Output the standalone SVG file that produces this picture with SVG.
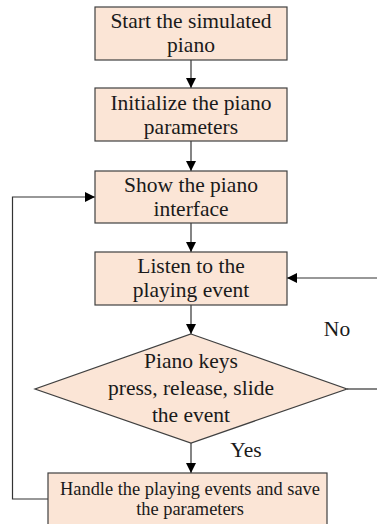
<svg xmlns="http://www.w3.org/2000/svg" width="377" height="524" viewBox="0 0 377 524">
  <defs>
    <marker id="arrow" viewBox="0 0 10 10" refX="10" refY="5" markerWidth="10" markerHeight="10" markerUnits="userSpaceOnUse" orient="auto">
      <path d="M0,0 L10,5 L0,10 Z" fill="#000"/>
    </marker>
  </defs>
  <style>
    .box { fill: #FBE5D6; stroke: #404040; stroke-width: 1.2; }
    .lbl { font-family: "Liberation Serif", "Times New Roman", serif; font-size: 21.5px; fill: #1a1a1a; text-anchor: middle; }
    .small { font-size: 18.4px; }
    .edge { fill: none; stroke: #333; stroke-width: 1.2; }
  </style>
  <rect width="377" height="524" fill="#fff"/>

  <g id="connectors">
    <line class="edge" x1="191" y1="60" x2="191" y2="88" marker-end="url(#arrow)"/>
    <line class="edge" x1="191" y1="141" x2="191" y2="171" marker-end="url(#arrow)"/>
    <line class="edge" x1="191" y1="223" x2="191" y2="252" marker-end="url(#arrow)"/>
    <line class="edge" x1="191" y1="305" x2="191" y2="334" marker-end="url(#arrow)"/>
    <line class="edge" x1="191" y1="443" x2="191" y2="473" marker-end="url(#arrow)"/>
    <polyline class="edge" points="48,499 12.5,499 12.5,197 95,197" marker-end="url(#arrow)"/>
    <line class="edge" x1="377" y1="278" x2="287" y2="278" marker-end="url(#arrow)"/>
    <line class="edge" x1="347" y1="389" x2="377" y2="389"/>
    <text class="lbl" x="337" y="336">No</text>
    <text class="lbl" x="246" y="457">Yes</text>
  </g>

  <g id="start">
    <rect class="box" x="95" y="7" width="192" height="53"/>
    <text class="lbl" x="191" y="28">Start the simulated</text>
    <text class="lbl" x="191" y="52">piano</text>
  </g>

  <g id="init">
    <rect class="box" x="95" y="88" width="192" height="53"/>
    <text class="lbl" x="191" y="110">Initialize the piano</text>
    <text class="lbl" x="191" y="134">parameters</text>
  </g>

  <g id="show">
    <rect class="box" x="95" y="171" width="192" height="52"/>
    <text class="lbl" x="191" y="192">Show the piano</text>
    <text class="lbl" x="191" y="216">interface</text>
  </g>

  <g id="listen">
    <rect class="box" x="95" y="252" width="192" height="53"/>
    <text class="lbl" x="191" y="273">Listen to the</text>
    <text class="lbl" x="191" y="297">playing event</text>
  </g>

  <g id="decision">
    <polygon class="box" points="191,334 347,389 191,443 35,389"/>
    <text class="lbl" x="191" y="368">Piano keys</text>
    <text class="lbl" x="191" y="395">press, release, slide</text>
    <text class="lbl" x="191" y="422">the event</text>
  </g>

  <g id="handle">
    <rect class="box" x="48" y="473" width="279" height="60"/>
    <text class="lbl small" x="190" y="495">Handle the playing events and save</text>
    <text class="lbl small" x="190" y="515">the parameters</text>
  </g>
</svg>
